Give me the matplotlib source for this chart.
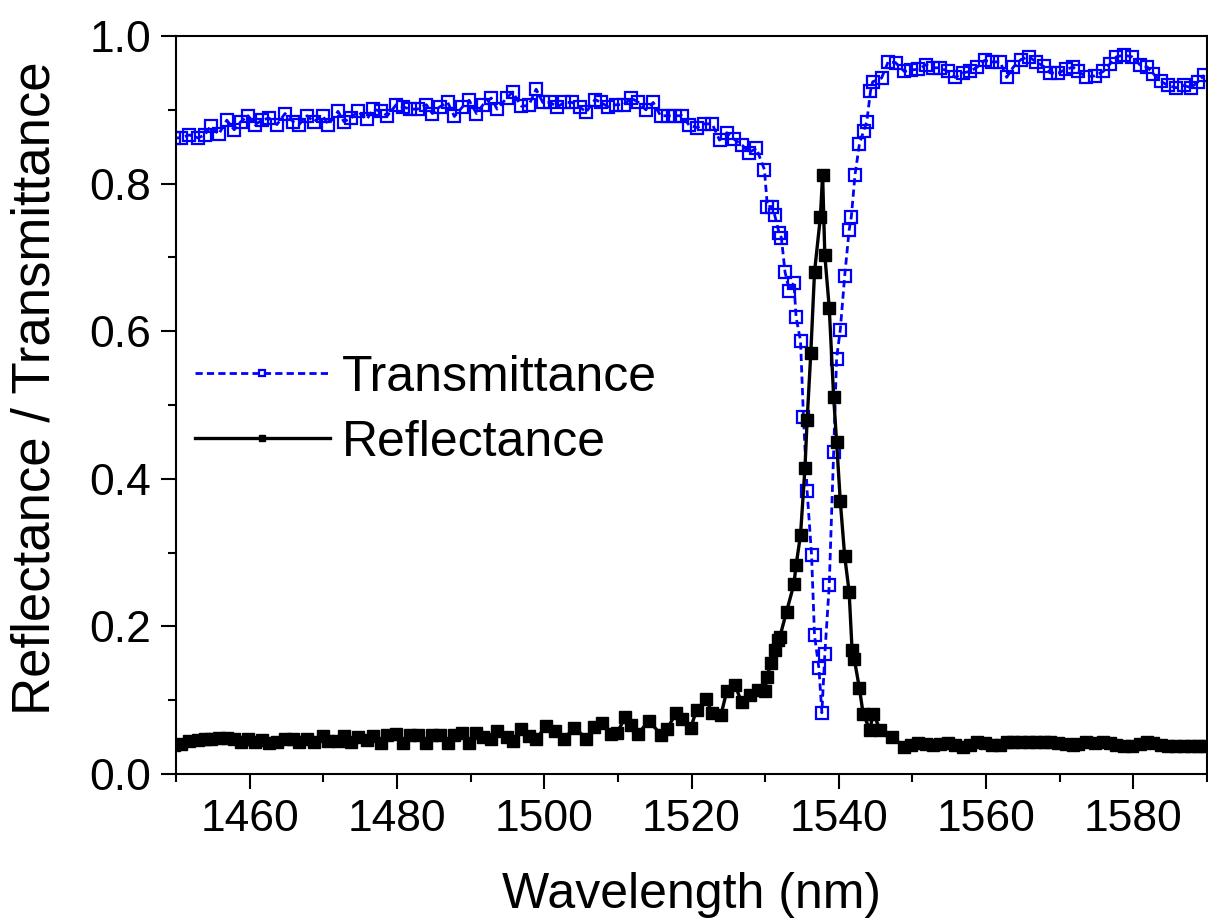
"""
Reflectance / transmittance spectrum around the 1538 nm resonance.
"""

import matplotlib.pyplot as plt
from matplotlib.ticker import MultipleLocator

plt.rcParams['font.family'] = ['Liberation Sans', 'DejaVu Sans']

# ── data ─────────────────────────────────────────────────────────────────────

wl_trans = [
    1449.7, 1450.7, 1451.8, 1453.0, 1453.9, 1454.7, 1455.8, 1456.9, 1457.9, 1458.8,
    1459.8, 1460.7, 1461.7, 1462.6, 1463.7, 1464.8, 1465.9, 1466.7, 1467.8, 1468.7,
    1469.9, 1470.7, 1472.0, 1472.8, 1473.8, 1474.7, 1475.9, 1476.8, 1477.8, 1478.7,
    1479.9, 1480.8, 1481.8, 1482.8, 1484.0, 1484.8, 1485.8, 1486.9, 1487.8, 1488.9,
    1489.8, 1490.8, 1491.7, 1492.8, 1493.6, 1494.9, 1495.7, 1496.9, 1497.9, 1498.9,
    1499.8, 1500.8, 1501.8, 1502.7, 1503.8, 1504.8, 1505.7, 1506.9, 1507.7, 1508.7,
    1509.8, 1510.8, 1511.8, 1512.8, 1513.8, 1514.8, 1515.8, 1516.8, 1517.8, 1518.7,
    1519.7, 1520.8, 1521.7, 1522.8, 1523.8, 1524.8, 1525.8, 1526.9, 1527.8, 1528.8,
    1529.9, 1530.3, 1530.9, 1531.3, 1531.9, 1532.2, 1532.7, 1533.3, 1533.9, 1534.2,
    1534.8, 1535.2, 1535.7, 1536.3, 1536.7, 1537.3, 1537.7, 1538.1, 1538.7, 1539.3,
    1539.7, 1540.2, 1540.8, 1541.4, 1541.7, 1542.2, 1542.8, 1543.4, 1543.8, 1544.3,
    1544.6, 1545.8, 1546.7, 1547.7, 1548.9, 1549.8, 1550.8, 1551.8, 1552.8, 1553.8,
    1554.8, 1555.8, 1556.8, 1557.8, 1558.8, 1559.8, 1560.8, 1561.9, 1562.8, 1563.7,
    1564.7, 1565.8, 1566.8, 1567.8, 1568.7, 1569.8, 1570.9, 1571.8, 1572.5, 1573.6,
    1574.8, 1575.9, 1576.8, 1577.7, 1578.7, 1579.8, 1580.9, 1581.9, 1582.7, 1583.7,
    1584.7, 1585.8, 1586.9, 1587.8, 1588.8, 1589.6,
]

transmittance = [
    0.862, 0.862, 0.866, 0.862, 0.866, 0.878, 0.867, 0.886, 0.873, 0.884,
    0.892, 0.880, 0.886, 0.889, 0.880, 0.895, 0.884, 0.880, 0.892, 0.884,
    0.892, 0.880, 0.898, 0.884, 0.889, 0.898, 0.887, 0.901, 0.898, 0.892,
    0.907, 0.904, 0.901, 0.901, 0.907, 0.895, 0.904, 0.910, 0.891, 0.904,
    0.913, 0.895, 0.907, 0.916, 0.901, 0.916, 0.924, 0.905, 0.906, 0.928,
    0.910, 0.910, 0.904, 0.910, 0.910, 0.904, 0.897, 0.914, 0.910, 0.904,
    0.907, 0.907, 0.916, 0.910, 0.900, 0.910, 0.892, 0.892, 0.892, 0.892,
    0.879, 0.876, 0.881, 0.881, 0.859, 0.869, 0.860, 0.852, 0.842, 0.848,
    0.819, 0.769, 0.769, 0.757, 0.733, 0.727, 0.680, 0.655, 0.666, 0.619,
    0.587, 0.484, 0.383, 0.297, 0.188, 0.143, 0.083, 0.162, 0.256, 0.437,
    0.563, 0.602, 0.675, 0.737, 0.755, 0.812, 0.854, 0.872, 0.884, 0.925,
    0.938, 0.943, 0.965, 0.964, 0.952, 0.954, 0.955, 0.961, 0.957, 0.957,
    0.952, 0.944, 0.950, 0.952, 0.958, 0.967, 0.965, 0.965, 0.944, 0.958,
    0.968, 0.972, 0.965, 0.959, 0.950, 0.950, 0.955, 0.958, 0.952, 0.945,
    0.946, 0.952, 0.962, 0.972, 0.974, 0.972, 0.961, 0.958, 0.949, 0.939,
    0.933, 0.930, 0.933, 0.930, 0.938, 0.947,
]

wl_refl = [
    1449.7, 1450.7, 1451.8, 1453.0, 1453.9, 1454.7, 1455.8, 1456.9, 1457.9, 1458.8,
    1459.8, 1460.7, 1461.7, 1462.6, 1463.7, 1464.8, 1465.9, 1466.7, 1467.8, 1468.7,
    1469.9, 1470.7, 1472.0, 1472.8, 1473.8, 1474.7, 1475.9, 1476.8, 1477.8, 1478.7,
    1479.9, 1480.8, 1481.8, 1482.8, 1484.0, 1484.8, 1485.8, 1486.9, 1487.8, 1488.9,
    1489.8, 1490.8, 1491.7, 1492.8, 1493.6, 1494.9, 1495.7, 1496.9, 1497.9, 1498.9,
    1500.3, 1501.5, 1502.7, 1504.1, 1505.7, 1506.8, 1507.9, 1509.1, 1509.9, 1511.0,
    1511.8, 1512.7, 1514.2, 1515.9, 1516.7, 1517.9, 1518.7, 1519.9, 1520.7, 1522.0,
    1522.8, 1524.0, 1524.8, 1525.9, 1526.8, 1528.0, 1529.0, 1530.0, 1530.2, 1530.8,
    1531.4, 1531.7, 1532.0, 1532.9, 1533.9, 1534.2, 1534.8, 1535.4, 1535.7, 1536.2,
    1536.7, 1537.5, 1537.8, 1538.1, 1538.7, 1539.3, 1539.7, 1540.2, 1540.8, 1541.4,
    1541.8, 1542.1, 1542.8, 1543.3, 1544.2, 1544.7, 1545.6, 1547.2, 1548.9, 1549.8,
    1550.8, 1551.8, 1552.8, 1553.8, 1554.8, 1555.8, 1556.8, 1557.8, 1558.8, 1559.8,
    1560.8, 1561.9, 1562.8, 1563.7, 1564.7, 1565.8, 1566.8, 1567.8, 1568.7, 1569.8,
    1570.9, 1571.8, 1572.5, 1573.6, 1574.8, 1575.9, 1576.8, 1577.7, 1578.7, 1579.8,
    1580.9, 1581.9, 1582.7, 1583.7, 1584.7, 1585.8, 1586.9, 1587.8, 1588.8, 1589.6,
]

reflectance = [
    0.040, 0.041, 0.045, 0.046, 0.048, 0.048, 0.049, 0.049, 0.048, 0.044,
    0.048, 0.043, 0.046, 0.042, 0.043, 0.047, 0.048, 0.044, 0.047, 0.043,
    0.051, 0.045, 0.045, 0.051, 0.043, 0.050, 0.046, 0.052, 0.042, 0.053,
    0.054, 0.042, 0.053, 0.053, 0.042, 0.053, 0.053, 0.042, 0.053, 0.055,
    0.042, 0.056, 0.050, 0.047, 0.058, 0.050, 0.045, 0.061, 0.052, 0.048,
    0.065, 0.058, 0.048, 0.063, 0.048, 0.064, 0.069, 0.054, 0.056, 0.077,
    0.066, 0.054, 0.072, 0.053, 0.061, 0.083, 0.075, 0.063, 0.087, 0.101,
    0.083, 0.080, 0.113, 0.121, 0.097, 0.107, 0.114, 0.113, 0.131, 0.150,
    0.168, 0.182, 0.186, 0.220, 0.257, 0.283, 0.324, 0.414, 0.480, 0.571,
    0.680, 0.755, 0.812, 0.703, 0.632, 0.511, 0.450, 0.370, 0.295, 0.247,
    0.168, 0.156, 0.116, 0.082, 0.060, 0.082, 0.060, 0.050, 0.037, 0.040,
    0.042, 0.041, 0.039, 0.041, 0.042, 0.039, 0.037, 0.040, 0.044, 0.042,
    0.039, 0.040, 0.044, 0.044, 0.043, 0.043, 0.043, 0.043, 0.043, 0.042,
    0.041, 0.039, 0.041, 0.044, 0.042, 0.043, 0.042, 0.040, 0.038, 0.038,
    0.041, 0.044, 0.042, 0.039, 0.038, 0.038, 0.038, 0.038, 0.038, 0.038,
]

# ── figure ───────────────────────────────────────────────────────────────────

fig = plt.figure(figsize=(12.08, 9.22), dpi=100)
ax = fig.add_axes([0.1457, 0.1605, 0.8535, 0.8004])

ax.plot(wl_trans, transmittance, color="#0000ff", ls=(0, (2.6, 1.5)), lw=2.0,
        marker="s", ms=8, mfc="none", mec="#0000ff", mew=1.6,
        label="Transmittance")
ax.plot(wl_refl, reflectance, color="black", lw=2.4,
        marker="s", ms=8, mfc="black", mec="black",
        label="Reflectance")

ax.set_xlim(1450, 1590)
ax.set_ylim(0, 1.0)
ax.xaxis.set_major_locator(MultipleLocator(20))
ax.xaxis.set_minor_locator(MultipleLocator(10))
ax.yaxis.set_major_locator(MultipleLocator(0.2))
ax.yaxis.set_minor_locator(MultipleLocator(0.1))

ax.tick_params(which="major", direction="out", length=11, width=1.5,
               labelsize=32, pad=7)
ax.tick_params(which="minor", direction="out", length=5.5, width=1.5)
for spine in ax.spines.values():
    spine.set_linewidth(1.5)

ax.set_xlabel("Wavelength (nm)", fontsize=36, labelpad=23)
ax.set_ylabel("Reflectance / Transmittance", fontsize=38)
# label sits a little above the axes centre in the original
ax.yaxis.set_label_coords(-0.112, 0.523)

ax.legend(loc="upper left", bbox_to_anchor=(0.018, 0.568), frameon=False,
          fontsize=36, handlelength=2.7, handletextpad=0.25, borderpad=0,
          borderaxespad=0, labelspacing=0.38, numpoints=1, markerscale=0.6)

fig.savefig("out.png", dpi=100)
plt.close(fig)
